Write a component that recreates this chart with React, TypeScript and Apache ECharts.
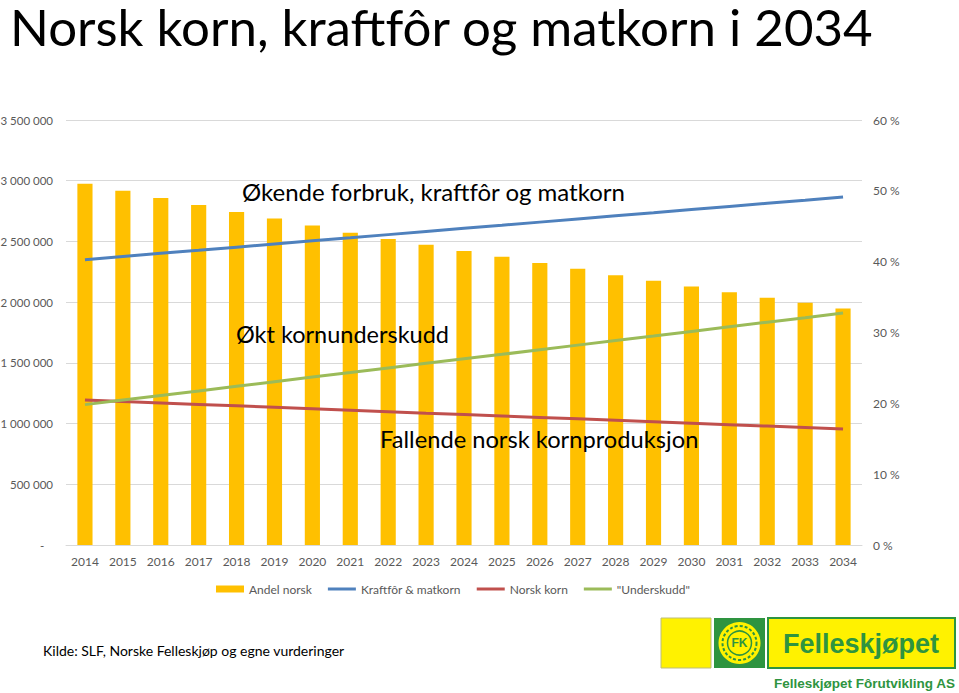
import React, { useEffect, useRef } from "react";
import * as echarts from "echarts";

const years = ["2014","2015","2016","2017","2018","2019","2020","2021","2022","2023","2024","2025","2026","2027","2028","2029","2030","2031","2032","2033","2034"];
// Andel norsk (%), right axis
const andelNorsk = [51.0, 50.0, 49.0, 48.0, 47.0, 46.1, 45.1, 44.1, 43.2, 42.4, 41.5, 40.7, 39.8, 39.0, 38.1, 37.3, 36.5, 35.7, 34.9, 34.2, 33.4];
// tonnes, left axis
const kraftforMatkorn = [2350000, 2376000, 2402000, 2427000, 2453000, 2479000, 2505000, 2530000, 2556000, 2582000, 2608000, 2633000, 2659000, 2685000, 2711000, 2736000, 2762000, 2788000, 2814000, 2839000, 2865000];
const norskKorn = [1194000, 1182000, 1170000, 1158000, 1146000, 1134000, 1122000, 1110000, 1098000, 1086000, 1075000, 1063000, 1051000, 1039000, 1027000, 1015000, 1003000, 991000, 979000, 967000, 955000];
const underskudd = [1156000, 1194000, 1232000, 1269000, 1307000, 1345000, 1383000, 1420000, 1458000, 1496000, 1533000, 1570000, 1608000, 1646000, 1684000, 1721000, 1759000, 1797000, 1835000, 1872000, 1910000];

const seriesNames = ["Andel norsk", "Kraftfôr & matkorn", "Norsk korn", "\"Underskudd\""];
const titleText = "Norsk korn, kraftfôr og matkorn i 2034";
const annotations = ["Økende forbruk, kraftfôr og matkorn", "Økt kornunderskudd", "Fallende norsk kornproduksjon"];
const sourceText = "Kilde: SLF, Norske Felleskjøp og egne vurderinger";

const FONT = "Lato, 'Open Sans', sans-serif";
const LOGOFONT = "'Liberation Sans', Arial, sans-serif";
const GRAY = "#595959";
const GREEN = "#2E9440";
const YELLOW = "#FFF200";

function fmtNum(v: number): string {
  if (v === 0) return "-   ";
  return String(v).replace(/\B(?=(\d{3})+(?!\d))/g, " ");
}

export default function App() {
  const ref = useRef<HTMLDivElement>(null);
  useEffect(() => {
    if (!ref.current) return;
    const chart = echarts.init(ref.current, null, { renderer: "svg" });
    chart.setOption({
      animation: false,
      backgroundColor: "#ffffff",
      textStyle: { fontFamily: FONT },
      grid: { left: 66, right: 97, top: 120, bottom: 148, containLabel: false, outerBoundsMode: "none" },
      legend: {
        left: 211,
        top: 578,
        itemWidth: 28,
        itemHeight: 7,
        itemGap: 16,
        textStyle: { color: GRAY, fontSize: 12, fontFamily: FONT },
        data: [
          { name: seriesNames[0], icon: "rect" },
          { name: seriesNames[1], icon: "path://M0,0 L28,0 L28,3 L0,3 Z" },
          { name: seriesNames[2], icon: "path://M0,0 L28,0 L28,3 L0,3 Z" },
          { name: seriesNames[3], icon: "path://M0,0 L28,0 L28,3 L0,3 Z" },
        ],
      },
      xAxis: {
        type: "category",
        data: years,
        boundaryGap: true,
        axisLine: { show: true, lineStyle: { color: "#D9D9D9" } },
        axisTick: { show: false },
        axisLabel: { color: GRAY, fontSize: 12, margin: 10, fontFamily: FONT },
      },
      yAxis: [
        {
          type: "value",
          min: 0,
          max: 3500000,
          interval: 500000,
          axisLine: { show: false },
          axisTick: { show: false },
          splitLine: { lineStyle: { color: "#D9D9D9" } },
          axisLabel: { color: GRAY, fontSize: 11.5, margin: 13, fontFamily: FONT, formatter: (v: number) => fmtNum(v) },
        },
        {
          type: "value",
          min: 0,
          max: 60,
          interval: 10,
          position: "right",
          axisLine: { show: false },
          axisTick: { show: false },
          splitLine: { show: false },
          axisLabel: { color: GRAY, fontSize: 12, margin: 11, fontFamily: FONT, formatter: (v: number) => v + " %" },
        },
      ],
      series: [
        {
          name: seriesNames[0],
          type: "bar",
          yAxisIndex: 1,
          data: andelNorsk,
          barWidth: "40%",
          itemStyle: { color: "#FFC000" },
        },
        {
          name: seriesNames[1],
          type: "line",
          yAxisIndex: 0,
          data: kraftforMatkorn,
          symbol: "none",
          lineStyle: { color: "#4F81BD", width: 3 },
          itemStyle: { color: "#4F81BD" },
        },
        {
          name: seriesNames[2],
          type: "line",
          yAxisIndex: 0,
          data: norskKorn,
          symbol: "none",
          lineStyle: { color: "#C0504D", width: 3 },
          itemStyle: { color: "#C0504D" },
        },
        {
          name: seriesNames[3],
          type: "line",
          yAxisIndex: 0,
          data: underskudd,
          symbol: "none",
          lineStyle: { color: "#9BBB59", width: 3 },
          itemStyle: { color: "#9BBB59" },
        },
      ],
      graphic: [
        { type: "text", z: 100, left: 10, top: 1, style: { text: titleText, fontSize: 51, fontFamily: FONT, fill: "#000000" } },
        { type: "text", z: 100, left: 242, top: 179, style: { text: annotations[0], fontSize: 24, fontFamily: FONT, fill: "#000000" } },
        { type: "text", z: 100, left: 236, top: 322, style: { text: annotations[1], fontSize: 23.5, fontFamily: FONT, fill: "#000000" } },
        { type: "text", z: 100, left: 380, top: 427, style: { text: annotations[2], fontSize: 23.7, fontFamily: FONT, fill: "#000000" } },
        { type: "text", z: 100, left: 43, top: 643, style: { text: sourceText, fontSize: 14, fontFamily: FONT, fill: "#000000" } },
        // logo
        { type: "rect", z: 100, shape: { x: 661, y: 618, width: 50, height: 50 }, style: { fill: YELLOW, stroke: "#BDBD7A", lineWidth: 1 } },
        { type: "rect", z: 100, shape: { x: 714, y: 618, width: 51, height: 50 }, style: { fill: GREEN } },
        { type: "circle", z: 101, shape: { cx: 739.5, cy: 643, r: 21 }, style: { fill: YELLOW } },
        { type: "circle", z: 102, shape: { cx: 739.5, cy: 643, r: 17 }, style: { fill: "none", stroke: GREEN, lineWidth: 2, lineDash: [3, 2] } },
        { type: "circle", z: 102, shape: { cx: 739.5, cy: 643, r: 12 }, style: { fill: YELLOW, stroke: GREEN, lineWidth: 1.5 } },
        { type: "text", z: 103, x: 739.5, y: 643, style: { text: "FK", fontSize: 12, fontWeight: "bold", fontFamily: LOGOFONT, fill: GREEN, align: "center", verticalAlign: "middle" } },
        { type: "rect", z: 100, shape: { x: 768, y: 618, width: 187, height: 50 }, style: { fill: YELLOW, stroke: GREEN, lineWidth: 2 } },
        { type: "text", z: 101, x: 861, y: 644, style: { text: "Felleskjøpet", fontSize: 27, fontWeight: "bold", fontFamily: LOGOFONT, fill: GREEN, align: "center", verticalAlign: "middle" } },
        { type: "text", z: 100, x: 955, y: 683, style: { text: "Felleskjøpet Fôrutvikling AS", fontSize: 13.5, fontWeight: "bold", fontFamily: LOGOFONT, fill: GREEN, align: "right", verticalAlign: "middle" } },
      ],
    });
    return () => chart.dispose();
  }, []);
  return <div ref={ref} style={{ position: "fixed", left: 0, top: 0, width: 959, height: 693 }} />;
}
